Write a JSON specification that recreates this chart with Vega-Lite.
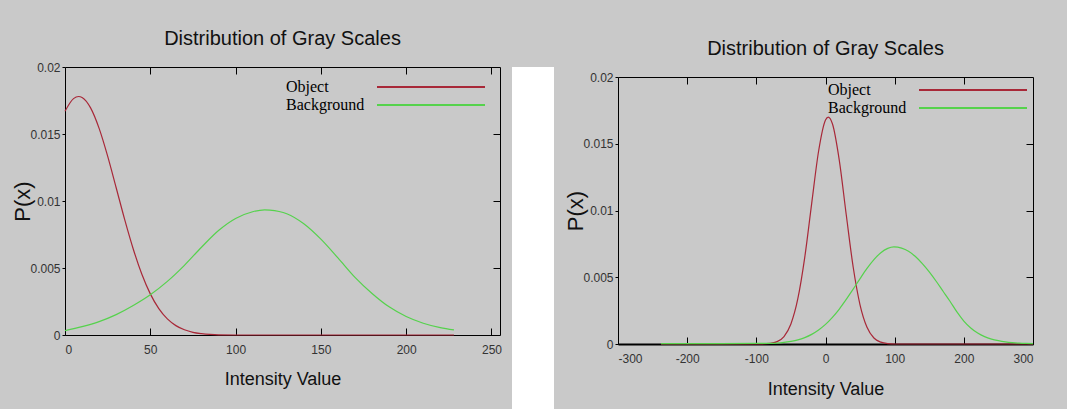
{
  "$schema": "https://vega.github.io/schema/vega-lite/v6.json",
  "background": "#c9c9c9",
  "padding": {"left": 11, "top": 28, "right": 32, "bottom": 0},
  "spacing": 10,
  "config": {
    "view": {"stroke": "black", "strokeWidth": 1},
    "font": "Liberation Sans",
    "axis": {"labelFont": "Liberation Sans", "labelFontSize": 12, "labelColor": "#333333", "titleFont": "Liberation Sans", "titleFontWeight": "normal", "titleColor": "#111111", "grid": false, "domain": false, "tickColor": "black"},
    "title": {"font": "Liberation Sans", "fontSize": 20, "fontWeight": "normal", "color": "#111111", "anchor": "middle", "frame": "group"},
    "legend": {"title": null, "orient": "none", "symbolType": "M-6,0H6", "symbolSize": 324, "symbolStrokeWidth": 2, "rowPadding": 0, "labelOffset": -155, "labelFont": "Liberation Serif", "labelFontSize": 16, "labelColor": "black", "padding": 0}
  },
  "datasets": {
    "curves": [
      {"panel": "A", "series": "Object", "x": 0, "p": 0.0167},
      {"panel": "A", "series": "Object", "x": 5, "p": 0.01764},
      {"panel": "A", "series": "Object", "x": 8, "p": 0.0178},
      {"panel": "A", "series": "Object", "x": 10, "p": 0.01773},
      {"panel": "A", "series": "Object", "x": 15, "p": 0.01695},
      {"panel": "A", "series": "Object", "x": 20, "p": 0.01542},
      {"panel": "A", "series": "Object", "x": 25, "p": 0.01335},
      {"panel": "A", "series": "Object", "x": 30, "p": 0.01099},
      {"panel": "A", "series": "Object", "x": 35, "p": 0.00861},
      {"panel": "A", "series": "Object", "x": 40, "p": 0.00642},
      {"panel": "A", "series": "Object", "x": 45, "p": 0.00455},
      {"panel": "A", "series": "Object", "x": 50, "p": 0.00307},
      {"panel": "A", "series": "Object", "x": 55, "p": 0.00197},
      {"panel": "A", "series": "Object", "x": 60, "p": 0.0012},
      {"panel": "A", "series": "Object", "x": 65, "p": 0.0007},
      {"panel": "A", "series": "Object", "x": 70, "p": 0.00039},
      {"panel": "A", "series": "Object", "x": 75, "p": 0.0002},
      {"panel": "A", "series": "Object", "x": 80, "p": 0.0001},
      {"panel": "A", "series": "Object", "x": 85, "p": 0.00004},
      {"panel": "A", "series": "Object", "x": 90, "p": 0.00001},
      {"panel": "A", "series": "Object", "x": 100, "p": 0},
      {"panel": "A", "series": "Object", "x": 150, "p": 0},
      {"panel": "A", "series": "Object", "x": 200, "p": 0},
      {"panel": "A", "series": "Object", "x": 228, "p": 0},
      {"panel": "A", "series": "Background", "x": 0, "p": 0.00033},
      {"panel": "A", "series": "Background", "x": 10, "p": 0.00062},
      {"panel": "A", "series": "Background", "x": 20, "p": 0.001},
      {"panel": "A", "series": "Background", "x": 30, "p": 0.00152},
      {"panel": "A", "series": "Background", "x": 40, "p": 0.0022},
      {"panel": "A", "series": "Background", "x": 50, "p": 0.003},
      {"panel": "A", "series": "Background", "x": 60, "p": 0.004},
      {"panel": "A", "series": "Background", "x": 70, "p": 0.0052},
      {"panel": "A", "series": "Background", "x": 80, "p": 0.00655},
      {"panel": "A", "series": "Background", "x": 90, "p": 0.0078},
      {"panel": "A", "series": "Background", "x": 100, "p": 0.0087},
      {"panel": "A", "series": "Background", "x": 110, "p": 0.0092},
      {"panel": "A", "series": "Background", "x": 117, "p": 0.00934},
      {"panel": "A", "series": "Background", "x": 120, "p": 0.00932},
      {"panel": "A", "series": "Background", "x": 130, "p": 0.00905},
      {"panel": "A", "series": "Background", "x": 140, "p": 0.0083},
      {"panel": "A", "series": "Background", "x": 150, "p": 0.00715},
      {"panel": "A", "series": "Background", "x": 160, "p": 0.00575},
      {"panel": "A", "series": "Background", "x": 170, "p": 0.0043},
      {"panel": "A", "series": "Background", "x": 180, "p": 0.0031},
      {"panel": "A", "series": "Background", "x": 190, "p": 0.0021},
      {"panel": "A", "series": "Background", "x": 200, "p": 0.00138},
      {"panel": "A", "series": "Background", "x": 210, "p": 0.00088},
      {"panel": "A", "series": "Background", "x": 220, "p": 0.00055},
      {"panel": "A", "series": "Background", "x": 228, "p": 0.00038},
      {"panel": "B", "series": "Object", "x": -238, "p": 0},
      {"panel": "B", "series": "Object", "x": -200, "p": 0},
      {"panel": "B", "series": "Object", "x": -150, "p": 0},
      {"panel": "B", "series": "Object", "x": -100, "p": 0},
      {"panel": "B", "series": "Object", "x": -80, "p": 0.00005},
      {"panel": "B", "series": "Object", "x": -70, "p": 0.00018},
      {"panel": "B", "series": "Object", "x": -60, "p": 0.00056},
      {"panel": "B", "series": "Object", "x": -50, "p": 0.0015},
      {"panel": "B", "series": "Object", "x": -40, "p": 0.00339},
      {"panel": "B", "series": "Object", "x": -30, "p": 0.00649},
      {"panel": "B", "series": "Object", "x": -20, "p": 0.01052},
      {"panel": "B", "series": "Object", "x": -10, "p": 0.01444},
      {"panel": "B", "series": "Object", "x": 0, "p": 0.01678},
      {"panel": "B", "series": "Object", "x": 4, "p": 0.017},
      {"panel": "B", "series": "Object", "x": 10, "p": 0.0165},
      {"panel": "B", "series": "Object", "x": 20, "p": 0.01374},
      {"panel": "B", "series": "Object", "x": 30, "p": 0.00968},
      {"panel": "B", "series": "Object", "x": 40, "p": 0.00577},
      {"panel": "B", "series": "Object", "x": 50, "p": 0.00292},
      {"panel": "B", "series": "Object", "x": 60, "p": 0.00125},
      {"panel": "B", "series": "Object", "x": 70, "p": 0.00045},
      {"panel": "B", "series": "Object", "x": 80, "p": 0.00014},
      {"panel": "B", "series": "Object", "x": 90, "p": 0.00003},
      {"panel": "B", "series": "Object", "x": 100, "p": 0},
      {"panel": "B", "series": "Object", "x": 150, "p": 0},
      {"panel": "B", "series": "Object", "x": 200, "p": 0},
      {"panel": "B", "series": "Object", "x": 250, "p": 0},
      {"panel": "B", "series": "Object", "x": 300, "p": 0},
      {"panel": "B", "series": "Background", "x": -238, "p": 0.00003},
      {"panel": "B", "series": "Background", "x": -200, "p": 0.00003},
      {"panel": "B", "series": "Background", "x": -150, "p": 0.00003},
      {"panel": "B", "series": "Background", "x": -100, "p": 0.00004},
      {"panel": "B", "series": "Background", "x": -80, "p": 0.00005},
      {"panel": "B", "series": "Background", "x": -70, "p": 0.00007},
      {"panel": "B", "series": "Background", "x": -60, "p": 0.00012},
      {"panel": "B", "series": "Background", "x": -50, "p": 0.0002},
      {"panel": "B", "series": "Background", "x": -40, "p": 0.00031},
      {"panel": "B", "series": "Background", "x": -30, "p": 0.00048},
      {"panel": "B", "series": "Background", "x": -20, "p": 0.00072},
      {"panel": "B", "series": "Background", "x": -10, "p": 0.00105},
      {"panel": "B", "series": "Background", "x": 0, "p": 0.00147},
      {"panel": "B", "series": "Background", "x": 10, "p": 0.002},
      {"panel": "B", "series": "Background", "x": 20, "p": 0.00262},
      {"panel": "B", "series": "Background", "x": 30, "p": 0.00334},
      {"panel": "B", "series": "Background", "x": 40, "p": 0.00411},
      {"panel": "B", "series": "Background", "x": 50, "p": 0.0049},
      {"panel": "B", "series": "Background", "x": 60, "p": 0.00566},
      {"panel": "B", "series": "Background", "x": 70, "p": 0.00632},
      {"panel": "B", "series": "Background", "x": 80, "p": 0.00684},
      {"panel": "B", "series": "Background", "x": 90, "p": 0.00716},
      {"panel": "B", "series": "Background", "x": 99, "p": 0.00727},
      {"panel": "B", "series": "Background", "x": 110, "p": 0.00718},
      {"panel": "B", "series": "Background", "x": 120, "p": 0.00695},
      {"panel": "B", "series": "Background", "x": 130, "p": 0.00655},
      {"panel": "B", "series": "Background", "x": 140, "p": 0.00602},
      {"panel": "B", "series": "Background", "x": 150, "p": 0.0054},
      {"panel": "B", "series": "Background", "x": 160, "p": 0.0047},
      {"panel": "B", "series": "Background", "x": 170, "p": 0.00395},
      {"panel": "B", "series": "Background", "x": 180, "p": 0.0032},
      {"panel": "B", "series": "Background", "x": 190, "p": 0.0024},
      {"panel": "B", "series": "Background", "x": 200, "p": 0.00172},
      {"panel": "B", "series": "Background", "x": 210, "p": 0.0012},
      {"panel": "B", "series": "Background", "x": 220, "p": 0.00082},
      {"panel": "B", "series": "Background", "x": 230, "p": 0.00055},
      {"panel": "B", "series": "Background", "x": 240, "p": 0.00037},
      {"panel": "B", "series": "Background", "x": 250, "p": 0.00025},
      {"panel": "B", "series": "Background", "x": 260, "p": 0.00016},
      {"panel": "B", "series": "Background", "x": 270, "p": 0.0001},
      {"panel": "B", "series": "Background", "x": 280, "p": 0.00006},
      {"panel": "B", "series": "Background", "x": 290, "p": 0.00004},
      {"panel": "B", "series": "Background", "x": 300, "p": 0.00003}
    ]
  },
  "resolve": {"scale": {"color": "independent"}, "legend": {"color": "independent"}},
  "hconcat": [
    {
      "width": 435,
      "height": 268,
      "title": {"text": "Distribution of Gray Scales", "offset": 12},
      "data": {"name": "curves"},
      "transform": [{"filter": "datum.panel === 'A'"}],
      "layer": [
        {
          "mark": {"type": "line", "strokeWidth": 1.2, "interpolate": "monotone"},
          "encoding": {
            "x": {"field": "x", "type": "quantitative", "scale": {"domain": [0, 255], "nice": false},
                  "axis": {"values": [0, 50, 100, 150, 200, 250], "title": "Intensity Value", "titleFontSize": 18, "tickSize": -7, "labelPadding": 16, "titlePadding": 15}},
            "y": {"field": "p", "type": "quantitative", "scale": {"domain": [0, 0.02], "nice": false},
                  "axis": {"values": [0, 0.005, 0.01, 0.015, 0.02], "format": "~g", "title": "P(x)", "titleFontSize": 22, "tickSize": 3, "labelPadding": 2, "titlePadding": -5}},
            "color": {"field": "series", "type": "nominal",
                      "scale": {"domain": ["Object", "Background"], "range": ["#a82838", "#55d24c"]},
                      "legend": {"legendX": 356, "legendY": 10}}
          }
        },
        {
          "mark": {"type": "line", "opacity": 0},
          "encoding": {
            "x": {"field": "x", "type": "quantitative", "axis": {"orient": "top", "labels": false, "title": null, "tickSize": -7, "values": [50, 100, 150, 200, 250]}},
            "y": {"field": "p", "type": "quantitative", "axis": {"orient": "right", "labels": false, "title": null, "tickSize": -7, "values": [0.005, 0.01, 0.015]}},
            "detail": {"field": "series"}
          }
        }
      ],
      "resolve": {"axis": {"x": "independent", "y": "independent"}}
    },
    {
      "width": 42,
      "height": 343,
      "data": {"values": [{"a": 1}]},
      "mark": {"type": "point", "opacity": 0},
      "view": {"fill": "white", "stroke": null}
    },
    {
      "spacing": 9,
      "bounds": "flush",
      "vconcat": [
        {
          "width": 1,
          "height": 1,
          "data": {"values": [{"a": 1}]},
          "mark": {"type": "point", "opacity": 0},
          "view": {"stroke": null}
        },
        {
          "width": 415,
          "height": 267,
          "title": {"text": "Distribution of Gray Scales", "offset": 12},
          "data": {"name": "curves"},
          "transform": [{"filter": "datum.panel === 'B'"}],
          "layer": [
            {
              "mark": {"type": "line", "strokeWidth": 1.2, "interpolate": "monotone"},
              "encoding": {
                "x": {"field": "x", "type": "quantitative", "scale": {"domain": [-300, 300], "nice": false},
                      "axis": {"values": [-300, -200, -100, 0, 100, 200, 300], "labelExpr": "'' + datum.value", "title": "Intensity Value", "titleFontSize": 18, "tickSize": -7, "labelPadding": 16.5, "titlePadding": 15.5, "domain": true, "domainColor": "black", "domainWidth": 2}},
                "y": {"field": "p", "type": "quantitative", "scale": {"domain": [0, 0.02], "nice": false},
                      "axis": {"values": [0, 0.005, 0.01, 0.015, 0.02], "format": "~g", "title": "P(x)", "titleFontSize": 22, "tickSize": 3, "labelPadding": 2, "titlePadding": -5}},
                "color": {"field": "series", "type": "nominal",
                          "scale": {"domain": ["Object", "Background"], "range": ["#a82838", "#55d24c"]},
                          "legend": {"legendX": 345, "legendY": 13}}
              }
            },
            {
              "mark": {"type": "line", "opacity": 0},
              "encoding": {
                "x": {"field": "x", "type": "quantitative", "axis": {"orient": "top", "labels": false, "title": null, "tickSize": -7, "values": [-200, -100, 0, 100, 200]}},
                "y": {"field": "p", "type": "quantitative", "axis": {"orient": "right", "labels": false, "title": null, "tickSize": -7, "values": [0.005, 0.01, 0.015]}},
                "detail": {"field": "series"}
              }
            }
          ],
          "resolve": {"axis": {"x": "independent", "y": "independent"}}
        }
      ]
    }
  ]
}
